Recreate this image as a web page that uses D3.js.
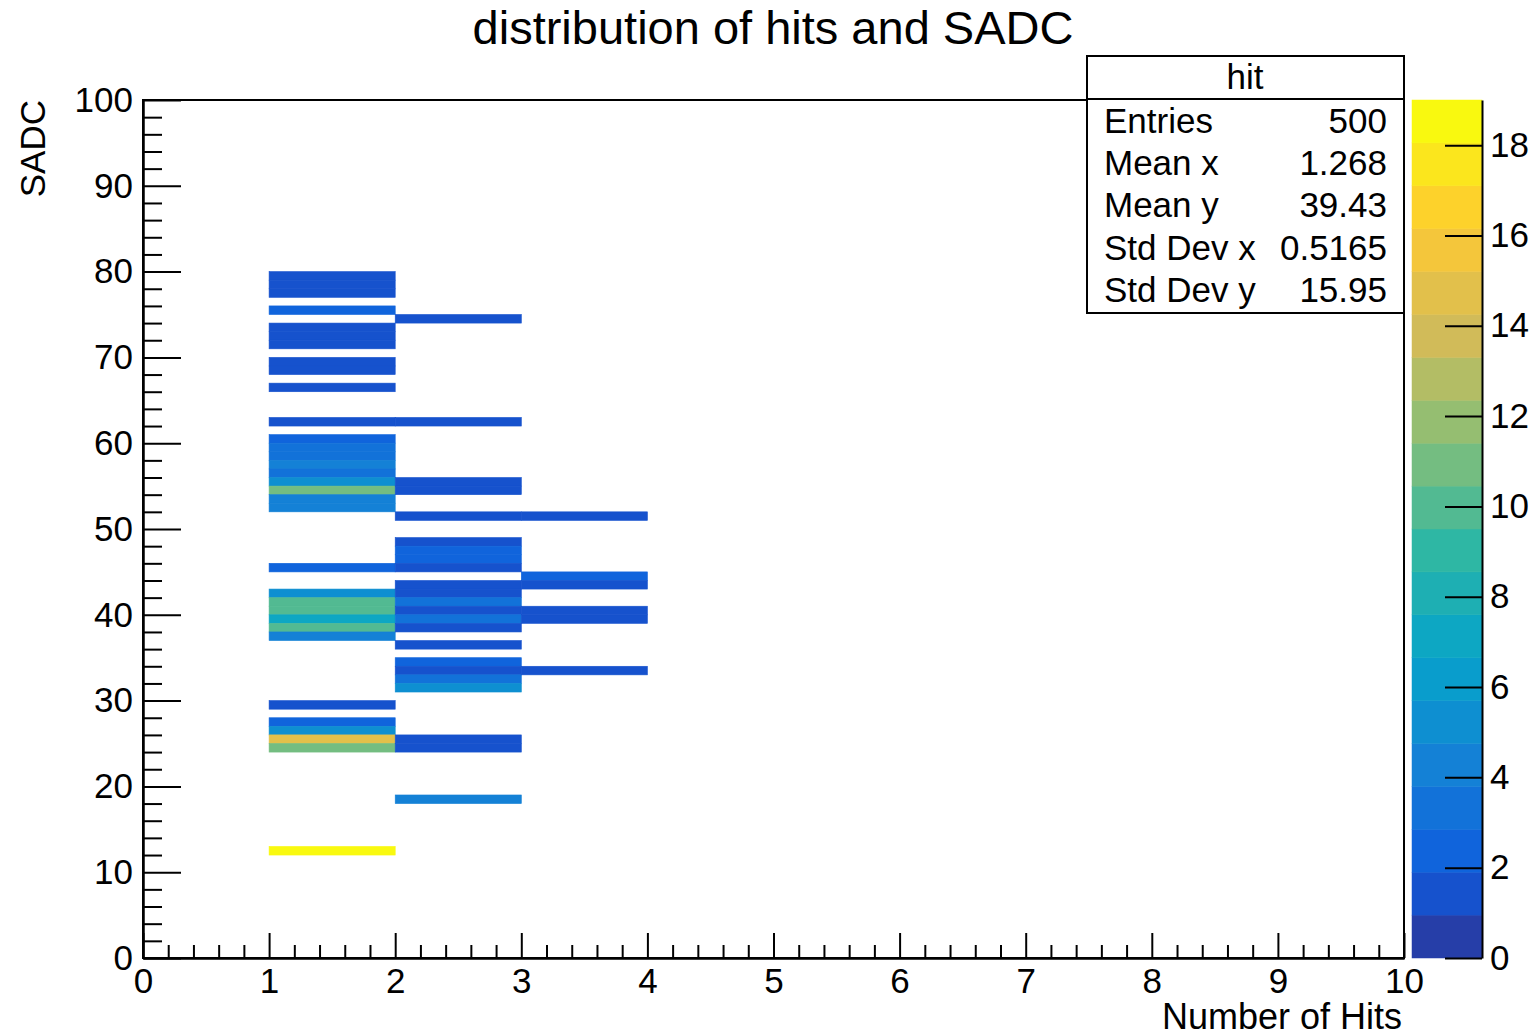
<!DOCTYPE html>
<html>
<head>
<meta charset="utf-8">
<script src="https://cdn.jsdelivr.net/npm/d3@7"></script>
<style>
body { margin: 0; background: #fff; }
svg { font-family: "Liberation Sans", Arial, Helvetica, sans-serif; }
.axis path, .axis line { stroke: #000; stroke-width: 2; }
.axis text { font-size: 35px; fill: #000; }
</style>
</head>
<body>
<svg width="1536" height="1036"></svg>
<script>
// filled bins for each "Number of Hits" column: SADC bin (low edge) and entries
let hitBins = [1, 2, 3];
let sadcHit1 = [79, 78, 77, 75, 73, 72, 71, 69, 68, 66, 62, 60, 59, 58, 57, 56, 55, 54, 53, 52, 45, 42, 41, 40, 39, 38, 37, 29, 27, 26, 25, 24, 12];
let countHit1 = [1, 1, 1, 2, 1, 1, 1, 1, 1, 1, 1, 2, 3, 3, 4, 3, 5, 11, 4, 4, 2, 5, 10, 10, 7, 10, 4, 1, 2, 5, 15, 11, 19];
let sadcHit2 = [74, 62, 55, 54, 51, 48, 47, 46, 45, 43, 42, 41, 40, 39, 38, 36, 34, 33, 32, 31, 25, 24, 18];
let countHit2 = [1, 1, 1, 1, 1, 1, 2, 2, 1, 1, 1, 3, 1, 3, 1, 1, 2, 1, 3, 5, 1, 1, 4];
let sadcHit3 = [51, 44, 43, 40, 39, 33];
let countHit3 = [1, 2, 1, 1, 1, 1];

let xTicks = [0, 1, 2, 3, 4, 5, 6, 7, 8, 9, 10];
let yTicks = [0, 10, 20, 30, 40, 50, 60, 70, 80, 90, 100];
let zTicks = [0, 2, 4, 6, 8, 10, 12, 14, 16, 18];

let statNames = ["Entries", "Mean x", "Mean y", "Std Dev x", "Std Dev y"];
let statValues = ["500", "1.268", "39.43", "0.5165", "15.95"];

// ROOT kBird palette stops
let birdStops = [0.0, 0.125, 0.25, 0.375, 0.5, 0.625, 0.75, 0.875, 1.0];
let birdR = [0.2082, 0.0592, 0.0780, 0.0232, 0.1802, 0.5301, 0.8186, 0.9956, 0.9764];
let birdG = [0.1664, 0.3599, 0.5041, 0.6419, 0.7178, 0.7492, 0.7328, 0.7862, 0.9832];
let birdB = [0.5293, 0.8684, 0.8385, 0.7914, 0.6425, 0.4662, 0.3499, 0.1968, 0.0539];

function makePalette(n) {
  let cols = [];
  for (let g = 1; g < birdStops.length; g++) {
    let nc = Math.floor(n * birdStops[g]) - Math.floor(n * birdStops[g - 1]);
    for (let c = 0; c < nc; c++) {
      let f = c / nc;
      cols.push(d3.rgb(
        255 * (birdR[g - 1] + f * (birdR[g] - birdR[g - 1])),
        255 * (birdG[g - 1] + f * (birdG[g] - birdG[g - 1])),
        255 * (birdB[g - 1] + f * (birdB[g] - birdB[g - 1]))).formatHex());
    }
  }
  return cols;
}

let palette = makePalette(255);
let nLevels = 20;

// build cell list
let cells = [];
[[sadcHit1, countHit1], [sadcHit2, countHit2], [sadcHit3, countHit3]].forEach(function(col, i) {
  col[0].forEach(function(s, j) {
    cells.push({hits: hitBins[i], sadc: s, n: col[1][j]});
  });
});
let zMax = d3.max(cells, function(d) { return d.n; });
let dz = zMax / nLevels;

function levelColor(level) {
  return palette[Math.floor((level + 0.99) * palette.length / nLevels)];
}
function cellColor(v) {
  let level = Math.min(nLevels - 1, Math.floor(v / dz));
  return levelColor(level);
}

let svg = d3.select("svg");
let plotLeft = 143, plotRight = 1404, plotTop = 100, plotBottom = 958;

let x = d3.scaleLinear().domain([0, 10]).range([plotLeft, plotRight]);
let y = d3.scaleLinear().domain([0, 100]).range([plotBottom, plotTop]);
let z = d3.scaleLinear().domain([0, zMax]).range([plotBottom, plotTop]);

// cells (thin stroke of the same colour hides antialiasing seams)
svg.append("g")
  .selectAll("rect")
  .data(cells)
  .enter().append("rect")
    .attr("x", function(d) { return x(d.hits); })
    .attr("y", function(d) { return y(d.sadc + 1); })
    .attr("width", function(d) { return x(d.hits + 1) - x(d.hits); })
    .attr("height", function(d) { return y(d.sadc) - y(d.sadc + 1); })
    .attr("fill", function(d) { return cellColor(d.n); })
    .attr("stroke", function(d) { return cellColor(d.n); })
    .attr("stroke-width", 0.6);

// frame
svg.append("rect")
  .attr("x", plotLeft).attr("y", plotTop)
  .attr("width", plotRight - plotLeft).attr("height", plotBottom - plotTop)
  .attr("fill", "none").attr("stroke", "#000").attr("stroke-width", 2);

// x axis (ticks point inward)
let xMinor = d3.range(0, 10.001, 0.2).filter(function(v) { return Math.abs(v - Math.round(v)) > 0.01; });
svg.append("g")
  .attr("class", "axis")
  .attr("transform", "translate(0," + plotBottom + ")")
  .call(d3.axisBottom(x).tickValues(xMinor).tickSize(-13).tickSizeOuter(0).tickFormat(""));
svg.append("g")
  .attr("class", "axis")
  .attr("transform", "translate(0," + plotBottom + ")")
  .call(d3.axisBottom(x).tickValues(xTicks).tickSize(-25).tickSizeOuter(0).tickPadding(10).tickFormat(d3.format("d")));

// y axis
let yMinor = d3.range(0, 100.001, 2).filter(function(v) { return v % 10 != 0; });
svg.append("g")
  .attr("class", "axis")
  .attr("transform", "translate(" + plotLeft + ",0)")
  .call(d3.axisLeft(y).tickValues(yMinor).tickSize(-19).tickSizeOuter(0).tickFormat(""));
svg.append("g")
  .attr("class", "axis")
  .attr("transform", "translate(" + plotLeft + ",0)")
  .call(d3.axisLeft(y).tickValues(yTicks).tickSize(-38).tickSizeOuter(0).tickPadding(10).tickFormat(d3.format("d")));

// axis titles
svg.append("text")
  .attr("x", plotRight - 2).attr("y", 1029)
  .attr("text-anchor", "end")
  .attr("font-size", 36)
  .text("Number of Hits");

svg.append("text")
  .attr("transform", "translate(45," + plotTop + ") rotate(-90)")
  .attr("text-anchor", "end")
  .attr("font-size", 35)
  .text("SADC");

// title
svg.append("text")
  .attr("x", 773).attr("y", 44)
  .attr("text-anchor", "middle")
  .attr("font-size", 47)
  .text("distribution of hits and SADC");

// stats box
let stats = svg.append("g");
stats.append("rect")
  .attr("x", 1087).attr("y", 56).attr("width", plotRight - 1087).attr("height", 257)
  .attr("fill", "#fff").attr("stroke", "#000").attr("stroke-width", 2);
stats.append("line")
  .attr("x1", 1087).attr("x2", plotRight).attr("y1", 99).attr("y2", 99)
  .attr("stroke", "#000").attr("stroke-width", 2);
stats.append("text")
  .attr("x", 1245).attr("y", 89)
  .attr("text-anchor", "middle").attr("font-size", 35)
  .text("hit");
statNames.forEach(function(name, i) {
  stats.append("text")
    .attr("x", 1104).attr("y", 133 + i * 42.2)
    .attr("font-size", 35)
    .text(name);
  stats.append("text")
    .attr("x", 1387).attr("y", 133 + i * 42.2)
    .attr("text-anchor", "end").attr("font-size", 35)
    .text(statValues[i]);
});

// colour palette
let palX0 = 1412, palX1 = 1482;
svg.append("g")
  .selectAll("rect")
  .data(d3.range(nLevels))
  .enter().append("rect")
    .attr("x", palX0)
    .attr("y", function(d) { return z((d + 1) * dz); })
    .attr("width", palX1 - palX0)
    .attr("height", function(d) { return z(d * dz) - z((d + 1) * dz); })
    .attr("fill", function(d) { return levelColor(d); })
    .attr("stroke", function(d) { return levelColor(d); })
    .attr("stroke-width", 0.5);

svg.append("g")
  .attr("class", "axis")
  .attr("transform", "translate(" + palX1 + ",0)")
  .call(d3.axisRight(z).tickValues(zTicks).tickSize(-37).tickSizeOuter(0).tickPadding(8).tickFormat(d3.format("d")));

// let the css font settings win over d3's axis defaults
svg.selectAll(".axis").attr("font-family", null).attr("font-size", null);
</script>
</body>
</html>
